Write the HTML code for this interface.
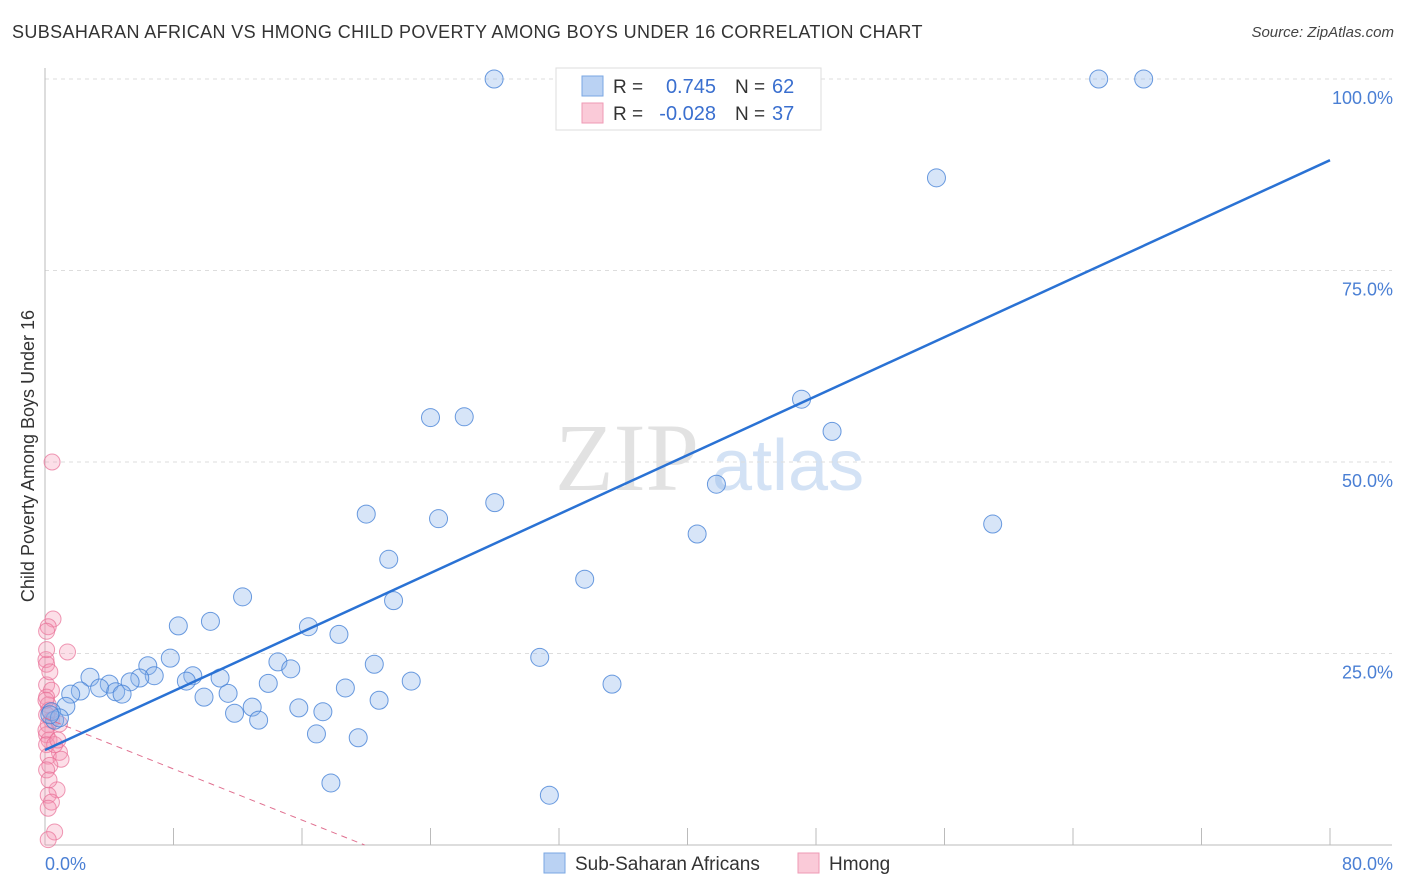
<!DOCTYPE html>
<html><head><meta charset="utf-8">
<style>
body{margin:0;background:#fff;font-family:"Liberation Sans",sans-serif;}
#wrap{position:relative;width:1406px;height:892px;overflow:hidden;}
.title{position:absolute;left:12px;top:22px;font-size:18px;color:#333;letter-spacing:0.38px;}
.source{position:absolute;right:12px;top:24px;font-size:15px;color:#444;font-style:italic;}
</style></head><body>
<div id="wrap">
<div class="title">SUBSAHARAN AFRICAN VS HMONG CHILD POVERTY AMONG BOYS UNDER 16 CORRELATION CHART</div>
<div class="source">Source: ZipAtlas.com</div>
<svg id="svg" width="1406" height="892" style="position:absolute;left:0;top:0"></svg>
</div>
<script>
const blueX=[27.96,65.6,68.4,55.5,47.1,49.0,24.0,26.1,41.8,28.0,20.0,24.5,40.6,59.0,21.4,33.6,12.3,21.7,10.3,8.3,16.4,18.3,30.8,7.8,6.4,14.5,15.3,20.5,6.8,9.2,10.9,5.9,2.8,5.3,4.0,8.8,13.9,22.8,35.3,18.7,2.2,1.6,3.4,4.4,4.8,9.9,11.4,20.8,1.3,12.9,15.8,17.3,11.8,13.3,16.9,19.5,17.8,31.4,0.6,0.4,0.9,0.3];
const blueY=[100,100,100,87.1,58.2,54.0,55.8,55.9,47.1,44.7,43.2,42.6,40.6,41.9,37.3,34.7,32.4,31.9,29.2,28.6,28.5,27.5,24.5,24.4,23.4,23.9,23.0,23.6,22.1,22.1,21.8,21.8,21.9,21.3,21.0,21.4,21.1,21.4,21.0,20.5,20.1,19.7,20.5,20.0,19.7,19.3,19.8,18.9,18.1,18.0,17.9,17.4,17.2,16.3,14.5,14.0,8.1,6.5,16.3,17.4,16.6,17.0];
const pinkX=[.44,.5,.2,.1,1.4,.06,.1,.1,.4,.1,.2,.25,.1,.4,.2,.9,.1,.25,.1,.9,.2,1.0,.3,.75,.2,.4,.2,.6,.2,.1,.25,.06,.6,.06,.3,.1,.8];
const pinkY=[50.0,29.5,28.5,27.9,25.2,24.2,23.6,20.9,20.2,19.3,18.3,17.6,17.0,16.3,15.7,15.8,14.4,13.7,13.1,12.1,11.6,11.2,10.4,7.2,6.5,5.6,4.8,1.7,0.7,9.8,8.5,15.0,13.1,18.9,22.6,25.5,13.7];
const blueFit=[12.4,89.4];
const pinkFit=[16.6,0,19.9];
const yTicks=[25,50,75,100];
const yTickLabels=["25.0%","50.0%","75.0%","100.0%"];
const xTicks=[0,8,16,24,32,40,48,56,64,72,80];

const svg=document.getElementById('svg');
const NS='http://www.w3.org/2000/svg';
const X0=45,X1=1330,Y0=845,Y1=79;
const xs=v=>X0+(X1-X0)*v/80;
const ys=v=>Y0-(Y0-Y1)*v/100;
function mk(t,a){const e=document.createElementNS(NS,t);for(const k in a)e.setAttribute(k,a[k]);svg.appendChild(e);return e;}

let w=mk('text',{x:555,y:490,'font-size':96,'font-family':'Liberation Serif',fill:'#e2e2e2'});w.textContent='ZIP';


let w2=mk('text',{x:712,y:490,'font-size':72,'font-family':'Liberation Sans',fill:'#d3e2f5'});w2.textContent='atlas';



yTicks.forEach((t,i)=>{
  const g=mk('line',{x1:X0,x2:1392,y1:ys(t),y2:ys(t),stroke:'#ddd','stroke-dasharray':'4,4'});
  
  
  const l=mk('text',{x:1393,y:ys(t)+25,'text-anchor':'end','font-size':18,fill:'#4a7fd4'});
  l.textContent=yTickLabels[i];
  
  
});
let ax=mk('line',{x1:X0,x2:X0,y1:68,y2:Y0,stroke:'#bbb'});


let bx=mk('line',{x1:X0,x2:1392,y1:Y0,y2:Y0,stroke:'#bbb'});


xTicks.slice(1).forEach(t=>{
  const e=mk('line',{x1:xs(t),x2:xs(t),y1:828,y2:Y0,stroke:'#bbb'});
  
  
});
let xl0=mk('text',{x:45,y:870,'font-size':18,fill:'#4a7fd4'});xl0.textContent='0.0%';


let xl1=mk('text',{x:1393,y:870,'text-anchor':'end','font-size':18,fill:'#4a7fd4'});xl1.textContent='80.0%';


let yt=mk('text',{x:34,y:456,'font-size':18,fill:'#333','text-anchor':'middle',transform:'rotate(-90 34 456)'});yt.textContent='Child Poverty Among Boys Under 16';



pinkX.forEach((v,i)=>{
  const c=mk('circle',{cx:xs(v),cy:ys(pinkY[i]),r:8,fill:'rgba(244,150,180,0.3)',stroke:'rgba(232,110,150,0.7)','stroke-width':1});
  
  
});
blueX.forEach((v,i)=>{
  const c=mk('circle',{cx:xs(v),cy:ys(blueY[i]),r:9,fill:'rgba(140,180,235,0.35)',stroke:'rgba(70,130,215,0.8)','stroke-width':1});
  
  
});
let pl=mk('line',{x1:xs(0),y1:ys(pinkFit[0]),x2:xs(pinkFit[2]),y2:ys(pinkFit[1]),stroke:'#e07090','stroke-width':1,'stroke-dasharray':'6,5'});


let bl=mk('line',{x1:xs(0),y1:ys(blueFit[0]),x2:xs(80),y2:ys(blueFit[1]),stroke:'#2a72d4','stroke-width':2.5});



let lb=mk('rect',{x:556,y:68,width:265,height:62,fill:'#fff',stroke:'#ddd'});


[[0,'rgba(140,180,235,0.6)','#7aa7e3','0.745','62'],[1,'rgba(248,180,200,0.7)','#ef9ab5','-0.028','37']].forEach(r=>{
  const y=76+r[0]*27;
  const s=mk('rect',{x:582,y:y,width:21,height:20,fill:r[1],stroke:r[2]});
  
  
  const t1=mk('text',{x:613,y:y+17,'font-size':19,fill:'#333'});t1.textContent='R =';
  const t2=mk('text',{x:716,y:y+17,'font-size':20,fill:'#3a6fcf','text-anchor':'end'});t2.textContent=r[3];
  const t3=mk('text',{x:735,y:y+17,'font-size':19,fill:'#333'});t3.textContent='N =';
  const t4=mk('text',{x:772,y:y+17,'font-size':20,fill:'#3a6fcf'});t4.textContent=r[4];
  [t1,t2,t3,t4].forEach(t=>{
    
    
  });
});
[[544,'rgba(140,180,235,0.6)','#7aa7e3','Sub-Saharan Africans'],[798,'rgba(248,180,200,0.7)','#ef9ab5','Hmong']].forEach(r=>{
  const s=mk('rect',{x:r[0],y:853,width:21,height:20,fill:r[1],stroke:r[2]});
  
  
  const t=mk('text',{x:r[0]+31,y:870,'font-size':19,fill:'#333'});t.textContent=r[3];
  
  
});
</script>
</body></html>
